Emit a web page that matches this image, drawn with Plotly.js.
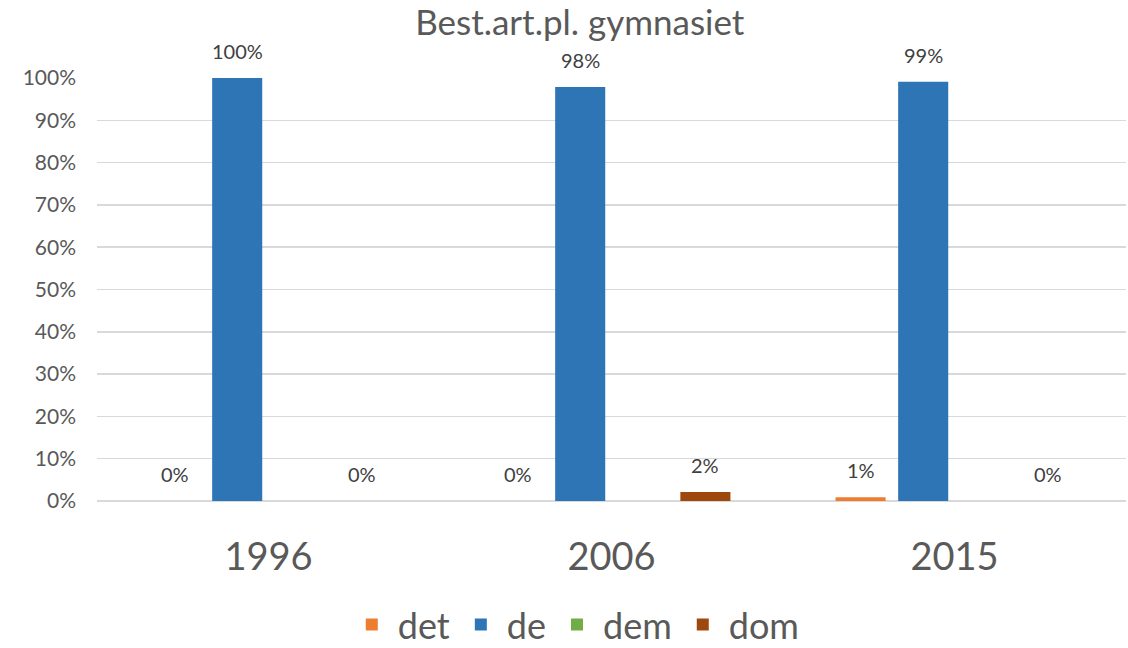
<!DOCTYPE html>
<html>
<head>
<meta charset="utf-8">
<script src="https://cdn.plot.ly/plotly-3.0.1.min.js"></script>
<style>html,body{margin:0;padding:0;background:#fff;}#chart{width:1128px;height:648px;}</style>
</head>
<body>
<div id="chart"></div>
<script>
const categories = ["1996", "2006", "2015"];
const seriesNames = ["det", "de", "dem", "dom"];
const detValues = [0, 0, 0.9];
const deValues = [100, 97.9, 99.1];
const demValues = [null, null, null];
const domValues = [0, 2.1, 0];
const yTickValues = [0, 10, 20, 30, 40, 50, 60, 70, 80, 90, 100];
const yTickLabels = ["0%", "10%", "20%", "30%", "40%", "50%", "60%", "70%", "80%", "90%", "100%"];
const colors = ["#ED7D31", "#2E75B6", "#70AD47", "#9E480E"];

const allValues = [detValues, deValues, demValues, domValues];
const FONT = "Lato, 'Open Sans', sans-serif";

const W = 1128, H = 648;
const margin = {l: 97, r: 2, t: 78, b: 147};
const bargap = 0.27, bargroupgap = 0.2;
const catWidthPx = (W - margin.l - margin.r) / categories.length;
const slotPx = catWidthPx * (1 - bargap) / seriesNames.length;

const traces = seriesNames.map((name, i) => ({
  type: "bar",
  name: name,
  x: categories,
  y: allValues[i],
  marker: {color: colors[i]},
  hoverinfo: "skip"
}));

const annotations = [];
seriesNames.forEach((name, i) => {
  allValues[i].forEach((v, j) => {
    if (v === null) return;
    annotations.push({
      x: j, y: v, xref: "x", yref: "y",
      text: Math.round(v) + "%",
      showarrow: false,
      xanchor: "center", yanchor: "bottom",
      xshift: (i - (seriesNames.length - 1) / 2) * slotPx,
      yshift: 13,
      font: {family: FONT, size: 20, color: "#404040"}
    });
  });
});

const layout = {
  width: W,
  height: H,
  margin: margin,
  paper_bgcolor: "#ffffff",
  plot_bgcolor: "#ffffff",
  font: {family: FONT, color: "#595959"},
  title: {
    text: "Best.art.pl. gymnasiet",
    font: {family: FONT, size: 35, color: "#595959"},
    x: 0.514, xref: "container", xanchor: "center",
    y: 0.965, yref: "container", yanchor: "middle"
  },
  barmode: "group",
  bargap: bargap,
  bargroupgap: bargroupgap,
  xaxis: {
    type: "category",
    categoryorder: "array",
    categoryarray: categories,
    range: [-0.5, categories.length - 0.5],
    autorange: false,
    tickfont: {family: FONT, size: 38, color: "#595959"},
    showline: false,
    showgrid: false,
    ticks: "",
    ticklabelstandoff: 30,
    automargin: false
  },
  yaxis: {
    range: [0, 100],
    autorange: false,
    tickvals: yTickValues,
    ticktext: yTickLabels,
    tickfont: {family: FONT, size: 21, color: "#595959"},
    showgrid: true,
    gridcolor: "#D9D9D9",
    gridwidth: 1.5,
    zeroline: true,
    zerolinecolor: "#D9D9D9",
    zerolinewidth: 1.5,
    ticks: "",
    ticklabelstandoff: 20,
    automargin: false
  },
  legend: {
    orientation: "h",
    xref: "container",
    x: 0.51, xanchor: "center",
    yref: "container",
    y: 0.036, yanchor: "middle",
    font: {family: FONT, size: 36, color: "#595959"},
    itemwidth: 42,
    traceorder: "normal"
  },
  annotations: annotations,
  showlegend: true
};

Plotly.newPlot("chart", traces, layout, {displayModeBar: false, staticPlot: true});
</script>
</body>
</html>
